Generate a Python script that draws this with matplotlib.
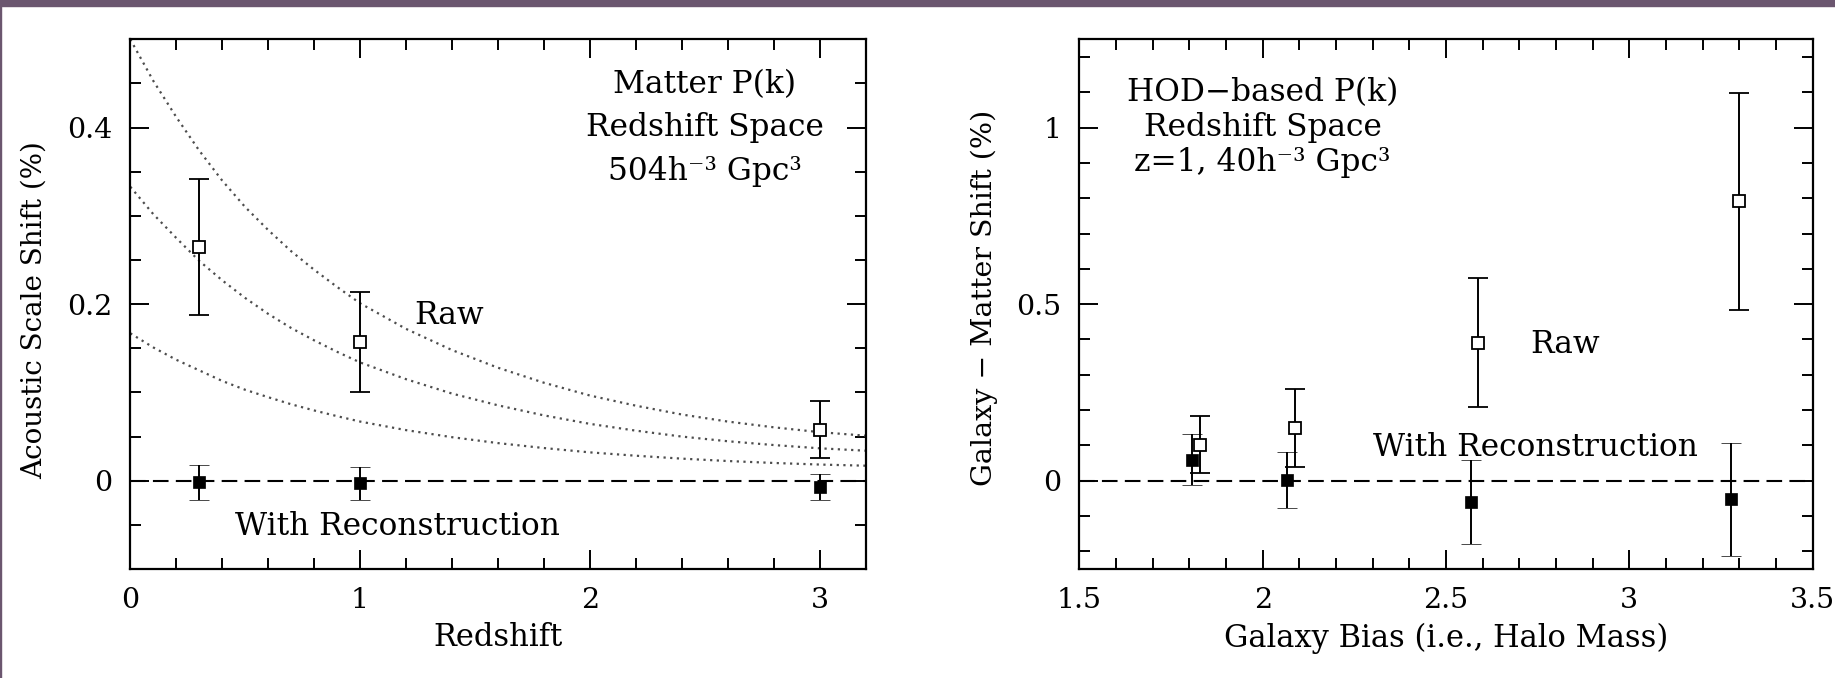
import matplotlib
matplotlib.use('Agg')
import matplotlib.pyplot as plt
from matplotlib.patches import Rectangle
from matplotlib.ticker import MultipleLocator

plt.rcParams['font.family'] = 'DejaVu Serif'

# acoustic scale shift vs redshift (matter P(k), redshift space)
z_raw = [0.3, 1.0, 3.0]
shift_raw = [0.265, 0.157, 0.058]
err_raw = [0.077, 0.057, 0.032]
z_rec = [0.3, 1.0, 3.0]
shift_rec = [-0.002, -0.003, -0.007]
err_rec = [0.020, 0.019, 0.015]

# dotted model curves
z_model = [0, 0.1, 0.2, 0.3, 0.4, 0.5, 0.6, 0.7, 0.8, 0.9, 1.0,
           1.2, 1.4, 1.6, 1.8, 2.0, 2.2, 2.4, 2.6, 2.8, 3.0, 3.2]
model_hi = [0.500, 0.453, 0.412, 0.374, 0.340, 0.310, 0.284, 0.260, 0.239, 0.2195, 0.201,
            0.172, 0.148, 0.128, 0.111, 0.0965, 0.085, 0.075, 0.067, 0.0605, 0.055, 0.051]
model_mid = [0.333, 0.302, 0.275, 0.249, 0.227, 0.207, 0.189, 0.173, 0.159, 0.146, 0.134,
             0.115, 0.0987, 0.0854, 0.074, 0.0644, 0.0567, 0.050, 0.0447, 0.0404, 0.0367, 0.034]
model_lo = [0.167, 0.151, 0.137, 0.125, 0.113, 0.103, 0.0946, 0.0866, 0.0796, 0.0731, 0.067,
            0.0573, 0.0493, 0.0426, 0.037, 0.0321, 0.0283, 0.025, 0.0223, 0.0201, 0.0183, 0.017]

# galaxy - matter shift vs galaxy bias (HOD P(k), z=1)
bias_raw = [1.830, 2.089, 2.588, 3.300]
gm_raw = [0.102, 0.149, 0.391, 0.791]
gm_err_raw = [0.081, 0.110, 0.183, 0.308]
bias_rec = [1.807, 2.066, 2.569, 3.278]
gm_rec = [0.060, 0.002, -0.060, -0.053]
gm_err_rec = [0.072, 0.080, 0.118, 0.161]

fig = plt.figure(figsize=(18.35, 6.78), dpi=100)
# slide background strip along the top and left edge
fig.patches.append(Rectangle((0, 1 - 6 / 678), 1, 6 / 678, transform=fig.transFigure,
                             color='#6b566f', zorder=0))
fig.patches.append(Rectangle((0, 0), 1.2 / 1835, 1, transform=fig.transFigure,
                             color='#6b566f', zorder=0))

ax1 = fig.add_axes([0.0710, 0.1608, 0.4007, 0.7812])
ax2 = fig.add_axes([0.5882, 0.1608, 0.3997, 0.7812])

ebkw = dict(ls='none', ecolor='k', elinewidth=1.4, capsize=7, capthick=1.4)

for c in [model_hi, model_mid, model_lo]:
    ax1.plot(z_model, c, color='0.3', lw=1.6, ls=(0, (1, 2)))
ax1.axhline(0, color='k', lw=1.5, ls=(0, (7.5, 3.5)))
ax1.errorbar(z_raw, shift_raw, yerr=err_raw, marker='s', ms=8.5, mfc='white', mec='k', mew=1.3, **ebkw)
ax1.errorbar(z_rec, shift_rec, yerr=err_rec, marker='s', ms=8, mfc='k', mec='k', mew=0.5, **ebkw)

ax2.axhline(0, color='k', lw=1.5, ls=(0, (7.5, 3.5)))
ax2.errorbar(bias_raw, gm_raw, yerr=gm_err_raw, marker='s', ms=8.5, mfc='white', mec='k', mew=1.3, **ebkw)
ax2.errorbar(bias_rec, gm_rec, yerr=gm_err_rec, marker='s', ms=8, mfc='k', mec='k', mew=0.5, **ebkw)

ax1.set_xlim(0, 3.2)
ax1.set_ylim(-0.1, 0.5)
ax1.xaxis.set_minor_locator(MultipleLocator(0.2))
ax1.yaxis.set_minor_locator(MultipleLocator(0.05))
ax1.set_xticks([0, 1, 2, 3])
ax1.set_xticklabels(['0', '1', '2', '3'])
ax1.set_yticks([0, 0.2, 0.4])
ax1.set_yticklabels(['0', '0.2', '0.4'])

ax2.set_xlim(1.5, 3.5)
ax2.set_ylim(-0.25, 1.25)
ax2.xaxis.set_minor_locator(MultipleLocator(0.1))
ax2.yaxis.set_minor_locator(MultipleLocator(0.1))
ax2.set_xticks([1.5, 2, 2.5, 3, 3.5])
ax2.set_xticklabels(['1.5', '2', '2.5', '3', '3.5'])
ax2.set_yticks([0, 0.5, 1])
ax2.set_yticklabels(['0', '0.5', '1'])

for ax in [ax1, ax2]:
    ax.tick_params(which='both', direction='in', top=True, right=True, width=1.4,
                   labelsize=20.5, pad=13)
    ax.tick_params(which='major', length=14)
    ax.tick_params(which='minor', length=8)
    for s in ax.spines.values():
        s.set_linewidth(1.6)

ax1.set_xlabel('Redshift', fontsize=22, labelpad=6)
ax2.set_xlabel('Galaxy Bias (i.e., Halo Mass)', fontsize=22, labelpad=6)
fig.text(34 / 1835, 1 - 310 / 678, 'Acoustic Scale Shift (%)',
         rotation=90, ha='center', va='center', fontsize=20)
fig.text(984 / 1835, 1 - 298 / 678, 'Galaxy \u2212 Matter Shift (%)',
         rotation=90, ha='center', va='center', fontsize=20.5)

ts = 22.5
ax1.text(2.50, 0.439, 'Matter P(k)', ha='center', va='baseline', fontsize=ts)
ax1.text(2.50, 0.390, 'Redshift Space', ha='center', va='baseline', fontsize=ts)
ax1.text(2.50, 0.341, '504h\u207b\u00b3 Gpc\u00b3', ha='center', va='baseline', fontsize=ts)
ax1.text(1.237, 0.178, 'Raw', ha='left', va='baseline', fontsize=ts)
ax1.text(0.455, -0.062, 'With Reconstruction', ha='left', va='baseline', fontsize=ts)

ax2.text(2.0, 1.076, 'HOD\u2212based P(k)', ha='center', va='baseline', fontsize=ts)
ax2.text(2.0, 0.977, 'Redshift Space', ha='center', va='baseline', fontsize=ts)
ax2.text(2.0, 0.877, 'z=1, 40h\u207b\u00b3 Gpc\u00b3', ha='center', va='baseline', fontsize=ts)
ax2.text(2.729, 0.361, 'Raw', ha='left', va='baseline', fontsize=ts)
ax2.text(2.30, 0.069, 'With Reconstruction', ha='left', va='baseline', fontsize=ts)

fig.savefig('out.png', dpi=100)
